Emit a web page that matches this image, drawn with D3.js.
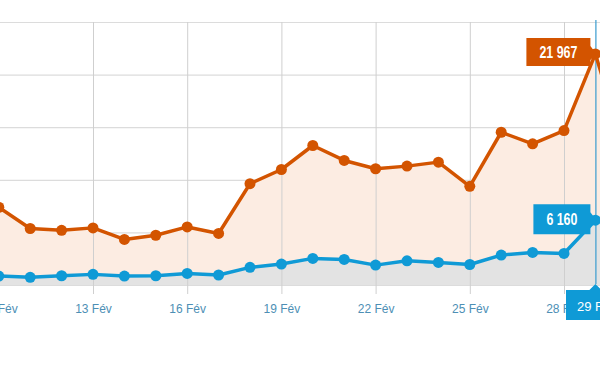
<!DOCTYPE html>
<html>
<head>
<meta charset="utf-8">
<script src="https://cdn.jsdelivr.net/npm/d3@7"></script>
<style>
    html, body { margin: 0; padding: 0; background: #fff; overflow: hidden; }
    #chart { width: 600px; height: 372px; }
    .axis text { font-family: "Liberation Sans", Arial, sans-serif; font-size: 12px; fill: #4d8fb5; }
    .tip text { font-family: "Liberation Sans", Arial, sans-serif; font-size: 16px; font-weight: bold; fill: #fff; }
</style>
</head>
<body>
<div id="chart"></div>
<script>
// données (10 fév -> 1 mars)
const days = ['2012-02-10', '2012-02-11', '2012-02-12', '2012-02-13', '2012-02-14', '2012-02-15',
    '2012-02-16', '2012-02-17', '2012-02-18', '2012-02-19', '2012-02-20', '2012-02-21',
    '2012-02-22', '2012-02-23', '2012-02-24', '2012-02-25', '2012-02-26', '2012-02-27',
    '2012-02-28', '2012-02-29', '2012-03-01'];
const pageViews = [7390, 5370, 5200, 5430, 4330, 4730, 5520, 4900, 9630, 10980, 13260, 11840,
    11050, 11300, 11680, 9380, 14520, 13420, 14680, 21967, 12000];
const visitors = [850, 730, 880, 1010, 850, 880, 1100, 950, 1680, 1990, 2530, 2430,
    1890, 2300, 2150, 1950, 2840, 3100, 3000, 6160, 5500];
const tickDays = [10, 13, 16, 19, 22, 25, 28];
const yTicks = [0, 5000, 10000, 15000, 20000, 25000];
const selectedIndex = 19;

const parse = d3.timeParse('%Y-%m-%d');
const dates = days.map(parse);

const width = 600, height = 372;
const orange = '#d35400';
const blue = '#0f9ad6';

const svg = d3.select('#chart').append('svg')
    .attr('width', width)
    .attr('height', height);

// le graphique est plus large que la fenêtre (coupé à gauche et à droite)
const x = d3.scaleTime()
    .domain([dates[0], dates[19]])
    .range([-1.2, 595.4]);

const y = d3.scaleLinear()
    .domain([0, 25000])
    .range([285, 22]);

// grille horizontale
svg.append('g')
    .selectAll('line')
    .data(yTicks)
    .join('line')
    .attr('x1', 0).attr('x2', width)
    .attr('y1', d => y(d) + 0.5).attr('y2', d => y(d) + 0.5)
    .attr('stroke', '#dcdcdc')
    .attr('stroke-width', 1.2);

const tickDates = tickDays.map(d => new Date(2012, 1, d));

// aires
const areaTop = d3.area()
    .x((d, i) => x(dates[i]))
    .y0(y(0))
    .y1(d => y(d));

svg.append('path')
    .datum(pageViews)
    .attr('d', areaTop)
    .attr('fill', '#fcece2');

svg.append('path')
    .datum(visitors)
    .attr('d', areaTop)
    .attr('fill', '#e3e3e3');

// grille verticale + axe
const xAxis = d3.axisBottom(x)
    .tickValues(tickDates)
    .tickSize(-(y(0) - y(25000)) - 9)
    .tickFormat(d => d.getDate() + ' Fév');

const axisG = svg.append('g')
    .attr('class', 'axis')
    .attr('transform', `translate(0,${y(0) + 9})`)
    .call(xAxis);
axisG.select('.domain').remove();
axisG.selectAll('.tick line').attr('stroke', '#cfcfcf').attr('stroke-width', 1);
axisG.selectAll('.tick text').attr('dy', '1.35em');

// ligne verticale de sélection
svg.append('line')
    .attr('x1', x(dates[selectedIndex]) + 0.5).attr('x2', x(dates[selectedIndex]) + 0.5)
    .attr('y1', y(25000) - 2).attr('y2', y(0) - 1)
    .attr('stroke', '#3a9ccf')
    .attr('stroke-width', 1.2);

// lignes + points
function drawSeries(values, color) {
    const line = d3.line()
        .x((d, i) => x(dates[i]))
        .y(d => y(d));

    svg.append('path')
        .datum(values)
        .attr('d', line)
        .attr('fill', 'none')
        .attr('stroke', color)
        .attr('stroke-width', 3.5)
        .attr('stroke-linejoin', 'round');

    svg.append('g')
        .selectAll('circle')
        .data(values)
        .join('circle')
        .attr('cx', (d, i) => x(dates[i]))
        .attr('cy', d => y(d))
        .attr('r', 5.5)
        .attr('fill', color);
}

drawSeries(pageViews, orange);
drawSeries(visitors, blue);

// bulles de valeur
const fmt = v => d3.format(',')(v).replace(',', ' ');

function valueTip(value, color, w, h, textW) {
    const px = x(dates[selectedIndex]);
    const py = y(value);
    const right = px - 5;
    const left = right - w;
    const top = py - 16;
    const g = svg.append('g').attr('class', 'tip');
    g.append('path')
        .attr('d', `M${left},${top} H${right} V${py - 8} L${px + 1},${py} L${right},${py + 6} V${top + h} H${left} Z`)
        .attr('fill', color);
    g.append('text')
        .attr('x', left + w / 2)
        .attr('y', top + h / 2 + 6)
        .attr('text-anchor', 'middle')
        .attr('textLength', textW)
        .attr('lengthAdjust', 'spacingAndGlyphs')
        .text(fmt(value));
}

valueTip(pageViews[selectedIndex], orange, 64, 28, 38);
valueTip(visitors[selectedIndex], blue, 57, 30, 31);

// étiquette de la date sélectionnée
const sx = x(dates[selectedIndex]);
const dateTip = svg.append('g').attr('class', 'tip');
dateTip.append('path')
    .attr('d', `M566,290 H${sx - 6} L${sx},284 L${sx + 6},290 H620 V320 H566 Z`)
    .attr('fill', blue);
dateTip.append('text')
    .attr('x', 577)
    .attr('y', 311)
    .style('font-size', '13px')
    .style('font-weight', 'normal')
    .text(dates[selectedIndex].getDate() + ' Fév');
</script>
</body>
</html>
